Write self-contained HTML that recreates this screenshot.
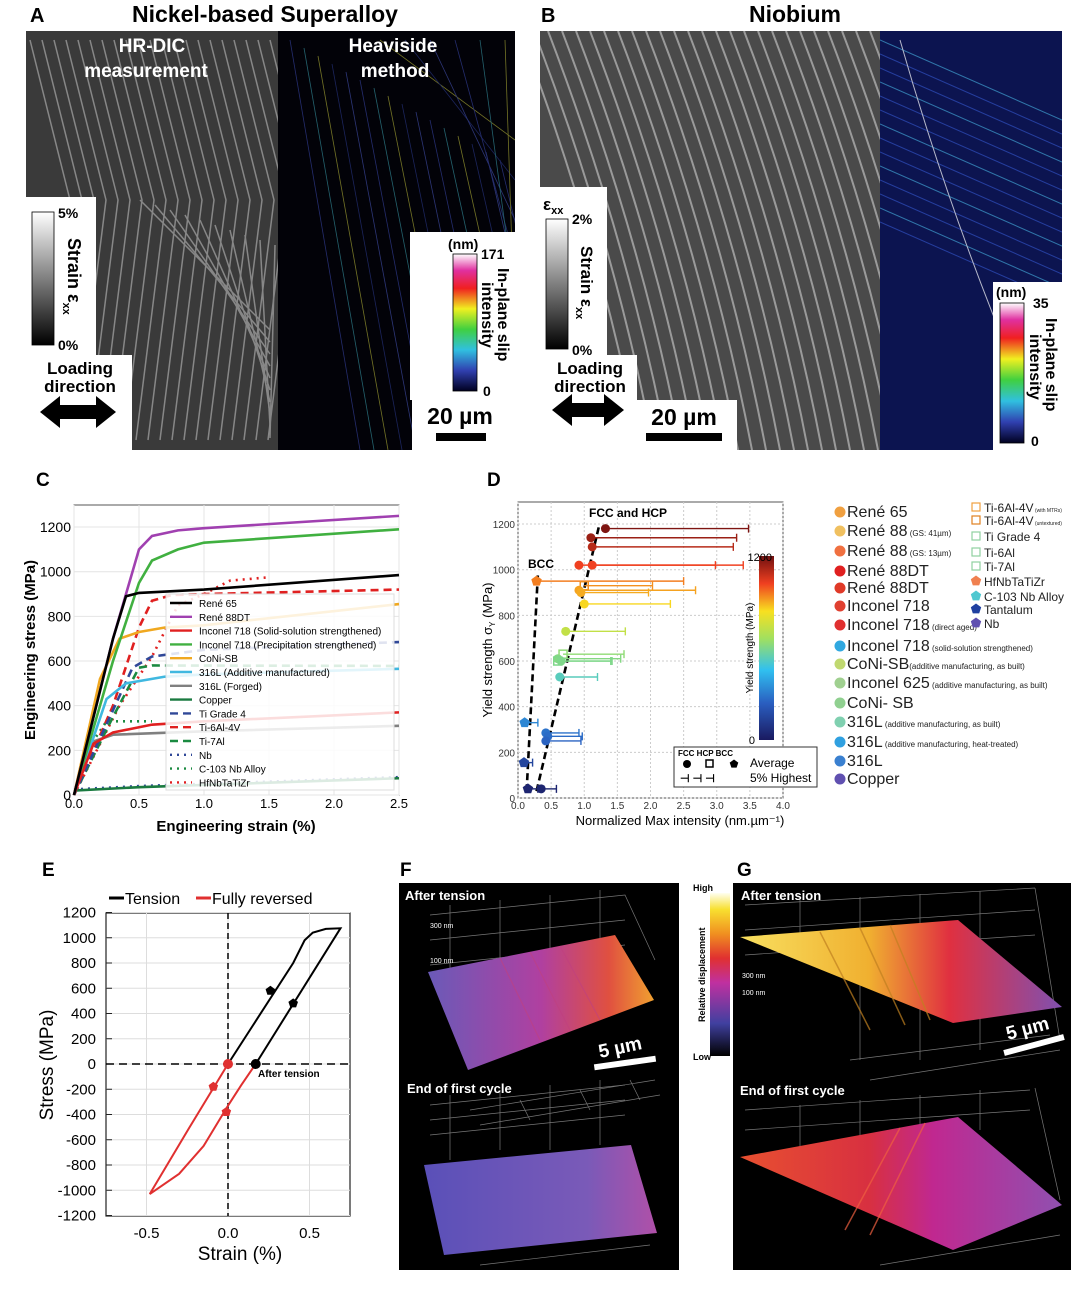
<!DOCTYPE html>
<html><head><meta charset="utf-8">
<style>
html,body{margin:0;padding:0;background:#fff;}
body{width:1080px;height:1297px;overflow:hidden;font-family:"Liberation Sans",sans-serif;}
svg text{font-family:"Liberation Sans",sans-serif;}
</style></head>
<body>
<svg id="fig" width="1080" height="1297" viewBox="0 0 1080 1297" xmlns="http://www.w3.org/2000/svg">
<defs>
<clipPath id="clipA1"><rect x="26" y="31" width="252" height="419"/></clipPath>
<clipPath id="clipA2"><rect x="278" y="31" width="237" height="419"/></clipPath>
<clipPath id="clipB1"><rect x="540" y="31" width="340" height="419"/></clipPath>
<clipPath id="clipB2"><rect x="880" y="31" width="182" height="419"/></clipPath>
<linearGradient id="gray" x1="0" y1="1" x2="0" y2="0"><stop offset="0" stop-color="#000"/><stop offset="1" stop-color="#fff"/></linearGradient>
<linearGradient id="slip" x1="0" y1="1" x2="0" y2="0"><stop offset="0" stop-color="#000020"/><stop offset="0.15" stop-color="#3040b0"/><stop offset="0.3" stop-color="#30c0e0"/><stop offset="0.45" stop-color="#40d040"/><stop offset="0.6" stop-color="#f0f020"/><stop offset="0.75" stop-color="#f02020"/><stop offset="0.88" stop-color="#e030a0"/><stop offset="1" stop-color="#fff"/></linearGradient>
<linearGradient id="jet" x1="0" y1="1" x2="0" y2="0"><stop offset="0" stop-color="#1a1a60"/><stop offset="0.2" stop-color="#2a5ec0"/><stop offset="0.38" stop-color="#30c0f0"/><stop offset="0.55" stop-color="#a0e060"/><stop offset="0.7" stop-color="#f8e020"/><stop offset="0.85" stop-color="#f04020"/><stop offset="1" stop-color="#701010"/></linearGradient>
<linearGradient id="heat" x1="0" y1="1" x2="0" y2="0"><stop offset="0" stop-color="#000"/><stop offset="0.2" stop-color="#4040a0"/><stop offset="0.45" stop-color="#c030a0"/><stop offset="0.6" stop-color="#e03030"/><stop offset="0.75" stop-color="#f09020"/><stop offset="0.9" stop-color="#f8e030"/><stop offset="1" stop-color="#fffff0"/></linearGradient>
<linearGradient id="fTop" x1="0" y1="0" x2="1" y2="0"><stop offset="0" stop-color="#6a5ab8"/><stop offset="0.5" stop-color="#b040a0"/><stop offset="0.8" stop-color="#e05040"/><stop offset="1" stop-color="#f0a030"/></linearGradient>
<linearGradient id="fBot" x1="0" y1="0" x2="1" y2="0"><stop offset="0" stop-color="#5a50b8"/><stop offset="0.7" stop-color="#7a5ab8"/><stop offset="1" stop-color="#b050a8"/></linearGradient>
<linearGradient id="gTop" x1="0" y1="0" x2="1" y2="0"><stop offset="0" stop-color="#f8e060"/><stop offset="0.4" stop-color="#f0b030"/><stop offset="0.65" stop-color="#e03040"/><stop offset="1" stop-color="#8050b0"/></linearGradient>
<linearGradient id="gBot" x1="0" y1="0" x2="1" y2="0"><stop offset="0" stop-color="#e85030"/><stop offset="0.4" stop-color="#d83040"/><stop offset="0.6" stop-color="#c02890"/><stop offset="1" stop-color="#9050b0"/></linearGradient>
</defs>

<!-- Panel A -->
<text x="30" y="22" font-size="20" font-weight="bold">A</text>
<text x="265" y="22" font-size="23" font-weight="bold" text-anchor="middle">Nickel-based Superalloy</text>
<rect x="26" y="31" width="252" height="419" fill="#3a3a3a"/>
<g id="stripesA" clip-path="url(#clipA1)" stroke="#bbb" stroke-width="1.5" opacity="0.6"></g>
<rect x="278" y="31" width="237" height="419" fill="#020208"/>
<g id="linesA" clip-path="url(#clipA2)" stroke-width="0.8" opacity="0.55"></g>
<text x="152" y="52" font-size="19" font-weight="bold" fill="#fff" text-anchor="middle">HR-DIC</text>
<text x="146" y="77" font-size="19" font-weight="bold" fill="#fff" text-anchor="middle">measurement</text>
<text x="393" y="52" font-size="19" font-weight="bold" fill="#fff" text-anchor="middle">Heaviside</text>
<text x="395" y="77" font-size="19" font-weight="bold" fill="#fff" text-anchor="middle">method</text>
<rect x="26" y="197" width="70" height="158" fill="#fff"/>
<rect x="32" y="212" width="22" height="133" fill="url(#gray)" stroke="#000" stroke-width="0.8"/>
<text x="58" y="218" font-size="14" font-weight="bold">5%</text>
<text x="58" y="350" font-size="14" font-weight="bold">0%</text>
<text transform="translate(68,238) rotate(90)" font-size="18" font-weight="bold">Strain ε<tspan font-size="11" dy="5">xx</tspan></text>
<rect x="26" y="355" width="106" height="95" fill="#fff"/>
<text x="80" y="374" font-size="17" font-weight="bold" text-anchor="middle">Loading</text>
<text x="80" y="392" font-size="17" font-weight="bold" text-anchor="middle">direction</text>
<polygon points="40,412 60,396 60,405 96,405 96,396 116,412 96,428 96,419 60,419 60,428" fill="#000"/>
<rect x="410" y="232" width="105" height="168" fill="#fff"/>
<rect x="412" y="400" width="103" height="50" fill="#fff"/>
<rect x="453" y="254" width="24" height="137" fill="url(#slip)" stroke="#000" stroke-width="0.8"/>
<text x="448" y="249" font-size="14" font-weight="bold">(nm)</text>
<text x="481" y="259" font-size="14" font-weight="bold">171</text>
<text x="483" y="396" font-size="14" font-weight="bold">0</text>
<text transform="translate(498,268) rotate(90)" font-size="16" font-weight="bold">In-plane slip</text>
<text transform="translate(482,282) rotate(90)" font-size="16" font-weight="bold">intensity</text>
<text x="460" y="424" font-size="23" font-weight="bold" text-anchor="middle">20 µm</text>
<rect x="436" y="433" width="50" height="8" fill="#000"/>

<!-- Panel B -->
<text x="541" y="22" font-size="20" font-weight="bold">B</text>
<text x="795" y="22" font-size="23" font-weight="bold" text-anchor="middle">Niobium</text>
<rect x="540" y="31" width="340" height="419" fill="#4a4a4a"/>
<g id="stripesB" clip-path="url(#clipB1)" stroke="#ddd" stroke-width="2" opacity="0.55"></g>
<rect x="880" y="31" width="182" height="419" fill="#0c1450"/>
<g id="linesB" clip-path="url(#clipB2)" stroke-width="1" opacity="0.7"></g>
<rect x="540" y="187" width="67" height="168" fill="#fff"/>
<rect x="546" y="219" width="22" height="130" fill="url(#gray)" stroke="#000" stroke-width="0.8"/>
<text x="543" y="210" font-size="17" font-weight="bold">ε<tspan font-size="11" dy="4">xx</tspan></text>
<text x="572" y="224" font-size="14" font-weight="bold">2%</text>
<text x="572" y="355" font-size="14" font-weight="bold">0%</text>
<text transform="translate(581,246) rotate(90)" font-size="17" font-weight="bold">Strain ε<tspan font-size="11" dy="5">xx</tspan></text>
<rect x="540" y="355" width="97" height="95" fill="#fff"/>
<text x="590" y="374" font-size="17" font-weight="bold" text-anchor="middle">Loading</text>
<text x="590" y="392" font-size="17" font-weight="bold" text-anchor="middle">direction</text>
<polygon points="552,410 572,394 572,403 604,403 604,394 624,410 604,426 604,417 572,417 572,426" fill="#000"/>
<rect x="637" y="400" width="100" height="50" fill="#fff"/>
<text x="684" y="425" font-size="23" font-weight="bold" text-anchor="middle">20 µm</text>
<rect x="646" y="433" width="76" height="8" fill="#000"/>
<rect x="993" y="282" width="69" height="168" fill="#fff"/>
<rect x="1000" y="303" width="24" height="140" fill="url(#slip)" stroke="#000" stroke-width="0.8"/>
<text x="996" y="297" font-size="14" font-weight="bold">(nm)</text>
<text x="1033" y="308" font-size="14" font-weight="bold">35</text>
<text x="1031" y="446" font-size="14" font-weight="bold">0</text>
<text transform="translate(1046,318) rotate(90)" font-size="16" font-weight="bold">In-plane slip</text>
<text transform="translate(1030,334) rotate(90)" font-size="16" font-weight="bold">intensity</text>

<!-- Panel C -->
<text x="36" y="486" font-size="19" font-weight="bold">C</text>
<g id="panelC"></g>

<!-- Panel D -->
<text x="487" y="486" font-size="19" font-weight="bold">D</text>
<g id="panelD"></g>

<!-- Panel E -->
<text x="42" y="876" font-size="19" font-weight="bold">E</text>
<g id="panelE"></g>

<!-- Panel F -->
<text x="400" y="876" font-size="19" font-weight="bold">F</text>
<rect x="399" y="883" width="280" height="387" fill="#000"/>
<g stroke="#777" stroke-width="0.7" fill="none">
<path d="M430,915 L625,895 L655,960 M430,940 L625,920 M430,965 L625,945 M470,1110 L655,1080 M480,1125 L660,1095 M450,905 L450,1000 M500,900 L500,995 M550,895 L550,990 M600,890 L600,980 M520,1100 L530,1120 M580,1090 L590,1110 M630,1080 L640,1100"/>
<path d="M430,1105 L625,1085 M430,1120 L625,1100 M430,1135 L625,1115 M450,1095 L450,1160 M500,1090 L500,1150 M550,1085 L550,1150 M600,1080 L600,1145 M480,1265 L650,1245"/>
</g>
<polygon points="428,972 615,935 654,1000 468,1070" fill="url(#fTop)"/>
<g stroke="#c04080" stroke-width="1.2" opacity="0.6"><line x1="500" y1="958" x2="540" y2="1040"/><line x1="530" y1="952" x2="570" y2="1030"/><line x1="560" y1="946" x2="600" y2="1020"/></g>
<polygon points="424,1165 631,1145 657,1233 444,1255" fill="url(#fBot)"/>
<text x="405" y="900" font-size="13" font-weight="bold" fill="#fff">After tension</text>
<text x="430" y="928" font-size="7" fill="#fff">300 nm</text>
<text x="430" y="963" font-size="7" fill="#fff">100 nm</text>
<text transform="translate(600,1058) rotate(-12)" font-size="19" font-weight="bold" fill="#fff">5 µm</text>
<rect x="594" y="1060" width="62" height="6" fill="#fff" transform="rotate(-8 625 1063)"/>
<text x="407" y="1093" font-size="13" font-weight="bold" fill="#fff">End of first cycle</text>

<!-- Shared colorbar -->
<rect x="710" y="893" width="20" height="163" fill="url(#heat)"/>
<text x="693" y="891" font-size="9" font-weight="bold">High</text>
<text x="693" y="1060" font-size="9" font-weight="bold">Low</text>
<text transform="translate(705,1022) rotate(-90)" font-size="9" font-weight="bold">Relative displacement</text>

<!-- Panel G -->
<text x="737" y="876" font-size="19" font-weight="bold">G</text>
<rect x="733" y="883" width="338" height="387" fill="#000"/>
<g stroke="#777" stroke-width="0.7" fill="none">
<path d="M745,905 L1035,888 M745,930 L1035,910 M745,955 L1035,935 M850,1060 L1050,1035 M870,1080 L1060,1050 M800,900 L800,960 M860,897 L860,1060 M920,894 L920,1060 M980,891 L980,1050 M1035,888 L1060,1040"/>
<path d="M745,1110 L1030,1090 M745,1130 L1030,1110 M800,1105 L800,1160 M860,1100 L860,1150 M920,1095 L920,1140 M980,1090 L980,1130 M1035,1088 L1060,1200 M880,1265 L1060,1235"/>
</g>
<polygon points="740,937 958,920 1062,1007 953,1023" fill="url(#gTop)"/>
<g stroke="#c08020" stroke-width="1.5" opacity="0.7"><line x1="820" y1="932" x2="870" y2="1030"/><line x1="860" y1="928" x2="905" y2="1025"/><line x1="890" y1="925" x2="930" y2="1020"/></g>
<polygon points="740,1157 958,1117 1062,1205 953,1250" fill="url(#gBot)"/>
<g stroke="#f06040" stroke-width="1.5" opacity="0.7"><line x1="900" y1="1128" x2="845" y2="1230"/><line x1="925" y1="1123" x2="870" y2="1235"/></g>
<text x="741" y="900" font-size="13" font-weight="bold" fill="#fff">After tension</text>
<text x="742" y="978" font-size="7" fill="#fff">300 nm</text>
<text x="742" y="995" font-size="7" fill="#fff">100 nm</text>
<text transform="translate(1008,1040) rotate(-15)" font-size="19" font-weight="bold" fill="#fff">5 µm</text>
<rect x="1003" y="1042" width="62" height="6" fill="#fff" transform="rotate(-15 1034 1045)"/>
<text x="740" y="1095" font-size="13" font-weight="bold" fill="#fff">End of first cycle</text>
</svg>

<script>
var NS='http://www.w3.org/2000/svg';
function mk(tag,attrs,parent){var e=document.createElementNS(NS,tag);for(var k in attrs)e.setAttribute(k,attrs[k]);parent.appendChild(e);return e;}
function txt(s,attrs,parent){var e=mk('text',attrs,parent);e.textContent=s;return e;}

// decorative image stripes
(function(){
 var g=document.getElementById('stripesA');
 var i,l;
 for(i=0;i<22;i++){l=mk('path',{d:'M'+(30+i*12)+',40 L'+(30+i*12+40)+',200 L'+(30+i*12+10)+',440',fill:'none'},g);}
 for(i=0;i<10;i++){l=mk('line',{x1:140+i*15,y1:200+i*5,x2:270,y2:330+i*12},g);}
 var h=document.getElementById('linesA');var cols=['#4050c0','#40b0c0','#d0d040','#3040a0','#5060d0'];
 for(i=0;i<16;i++){l=mk('line',{x1:290+i*14,y1:40+i*8,x2:360+i*14,y2:450,stroke:cols[i%5]},h);}
 for(i=0;i<6;i++){l=mk('line',{x1:380+i*25,y1:40,x2:515,y2:140+i*40,stroke:cols[(i+2)%5]},h);}
 var b=document.getElementById('stripesB');
 for(i=0;i<28;i++){l=mk('path',{d:'M'+(520+i*14)+',31 Q'+(600+i*14)+',240 '+(640+i*14)+',450',fill:'none'},b);}
 var hb=document.getElementById('linesB');
 for(i=0;i<14;i++){l=mk('line',{x1:880,y1:40+i*14,x2:1062,y2:120+i*14,stroke:i%3?'#3050c0':'#40a0d0'},hb);}
 l=mk('path',{d:'M900,40 Q960,250 1050,450',stroke:'#fff',fill:'none'},hb);
})();

// ===== Panel C data =====
var cNames=['René 65','René 88DT','Inconel 718 (Solid-solution strengthened)','Inconel 718 (Precipitation strengthened)','CoNi-SB','316L (Additive manufactured)','316L (Forged)','Copper','Ti Grade 4','Ti-6Al-4V','Ti-7Al','Nb','C-103 Nb Alloy','HfNbTaTiZr'];
var cColors=['#000','#a040b0','#e02020','#40b040','#f0a820','#40b8e0','#808080','#1a7a40','#304898','#e02020','#1a8a40','#304898','#1a8a40','#e02020'];
var cDash=['','','','','','','','','8,5','8,5','8,5','2,5','2,5','2,5'];
var cStrain=[[0,0.3,0.4,0.5,1.0,2.5],[0,0.3,0.5,0.6,0.8,1.0,2.5],[0,0.15,0.3,0.6,1.0,2.5],[0,0.3,0.5,0.6,0.8,1.0,2.5],[0,0.2,0.35,0.5,0.7,1.0,2.5],[0,0.25,0.4,0.7,1.0,2.5],[0,0.15,0.3,1.0,2.5],[0,0.5,2.5],[0,0.45,0.6,1.0,2.5],[0,0.3,0.5,0.6,0.75,1.0,2.5],[0,0.3,0.5,0.6,2.5],[0,0.5,2.5],[0,0.1,0.25,0.6],[0,0.35,0.6,0.8,1.0,1.2,1.5]];
var cStress=[[0,700,890,905,920,985],[0,700,1100,1160,1185,1195,1250],[0,230,280,315,330,370],[0,600,950,1050,1100,1130,1190],[0,520,700,730,750,760,855],[0,430,500,530,540,565],[0,240,270,285,310],[20,35,75],[0,570,620,650,685],[0,400,750,870,895,900,920],[0,350,570,580,578],[25,40,80],[0,200,330,330],[0,400,620,850,900,960,975]];
var cXTicks=[0,0.5,1.0,1.5,2.0,2.5];
var cYTicks=[0,200,400,600,800,1000,1200];
(function(){
 var g=document.getElementById('panelC');
 function X(v){return 74+v*130;} function Y(v){return 795-v*0.2233;}
 var e=mk('rect',{x:74,y:505,width:325,height:290,fill:'#fff',stroke:'#555','stroke-width':1},g);
 
 cXTicks.forEach(function(t){
  e=mk('line',{x1:X(t),x2:X(t),y1:505,y2:795,stroke:'#e4e4e4'},g);
  e=txt(t.toFixed(1),{x:X(t),y:808,'font-size':13,'text-anchor':'middle'},g);
 });
 cYTicks.forEach(function(t){
  e=mk('line',{x1:74,x2:399,y1:Y(t),y2:Y(t),stroke:'#e4e4e4'},g);
  e=txt(String(t),{x:71,y:Y(t)+5,'font-size':14,'text-anchor':'end'},g);
 });
 for(var i=cNames.length-1;i>=0;i--){
  var pts=cStrain[i].map(function(s,j){return X(s)+','+Y(cStress[i][j]);}).join(' ');
  e=mk('polyline',{points:pts,fill:'none',stroke:cColors[i],'stroke-width':2.6,'stroke-dasharray':cDash[i]},g);
  
 }
 e=mk('rect',{x:166,y:594,width:228,height:196,fill:'#fff','fill-opacity':0.85,stroke:'#ddd'},g);
 cNames.forEach(function(n,i){
  var y=603+i*13.8;
  e=mk('line',{x1:170,x2:192,y1:y,y2:y,stroke:cColors[i],'stroke-width':2.4,'stroke-dasharray':cDash[i]},g);
  e=txt(n,{x:199,y:y+4,'font-size':10},g);
 });
 e=txt('Engineering strain (%)',{x:236,y:831,'font-size':15,'font-weight':'bold','text-anchor':'middle'},g);
 e=txt('Engineering stress (MPa)',{transform:'translate(35,650) rotate(-90)','font-size':15,'font-weight':'bold','text-anchor':'middle'},g);
})();

// ===== Panel D data =====
var dAvg=[1.32,1.1,1.12,0.92,1.12,0.28,1.0,0.92,0.95,1.0,0.72,0.68,0.6,0.6,0.65,0.63,0.1,0.42,0.45,0.42,0.09,0.15,0.35];
var dYield=[1180,1140,1100,1020,1020,950,930,910,900,850,730,630,610,600,600,530,330,285,270,250,155,40,40];
var dHigh=[3.48,3.3,3.25,2.98,3.4,2.5,2.03,2.68,1.97,2.3,1.62,1.6,1.55,1.42,1.4,1.2,0.3,0.92,0.97,0.95,0.22,0.3,0.58];
var dShape=['c','c','c','c','c','p','s','c','c','c','c','s','c','s','c','c','p','c','c','c','p','p','c'];
var dXTicks=[0,0.5,1.0,1.5,2.0,2.5,3.0,3.5,4.0];
var dYTicks=[0,200,400,600,800,1000,1200];
var dLegL=[['René 65','#f0a040',''],['René 88','#f0c060',' (GS: 41µm)'],['René 88','#f07040',' (GS: 13µm)'],['René 88DT','#e02020',''],['René 88DT','#e03a28',''],['Inconel 718','#e04030',''],['Inconel 718','#e03030',' (direct aged)'],['Inconel 718','#30a8e0',' (solid-solution strengthened)'],['CoNi-SB','#c0d870','(additive manufacturing, as built)'],['Inconel 625','#a0d090',' (additive manufacturing, as built)'],['CoNi- SB','#90d090',''],['316L','#80d0b0','  (additive manufacturing, as built)'],['316L','#30a0e0','  (additive manufacturing, heat-treated)'],['316L','#3a80d0',''],['Copper','#6050b0','']];
var dLegR=[['Ti-6Al-4V','#f0a040','s',' (with MTRs)'],['Ti-6Al-4V','#e08020','s',' (untextured)'],['Ti Grade 4','#90d0a0','s',''],['Ti-6Al','#90d0a0','s',''],['Ti-7Al','#90d0a0','s',''],['HfNbTaTiZr','#f08050','p',''],['C-103 Nb Alloy','#50c8d0','p',''],['Tantalum','#2040a0','p',''],['Nb','#6050b0','p','']];
function jet(v){var st=[[0,[26,26,96]],[240,[42,94,192]],[456,[48,192,240]],[660,[160,224,96]],[840,[248,224,32]],[1020,[240,64,32]],[1200,[112,16,16]]];
 for(var i=1;i<st.length;i++){if(v<=st[i][0]){var a=st[i-1],b=st[i],t=(v-a[0])/(b[0]-a[0]);return 'rgb('+[0,1,2].map(function(k){return Math.round(a[1][k]+t*(b[1][k]-a[1][k]));}).join(',')+')';}}return 'rgb(112,16,16)';}
function pent(cx,cy,r){var p=[];for(var k=0;k<5;k++){var a=-Math.PI/2+k*2*Math.PI/5;p.push((cx+r*Math.cos(a)).toFixed(1)+','+(cy+r*Math.sin(a)).toFixed(1));}return p.join(' ');}
(function(){
 var g=document.getElementById('panelD');
 function X(v){return 518+v*66.25;} function Y(v){return 798-v*0.2283;}
 var e=mk('rect',{x:518,y:502,width:265,height:296,fill:'#fff',stroke:'#555'},g);
 dXTicks.forEach(function(t){
  e=mk('line',{x1:X(t),x2:X(t),y1:502,y2:798,stroke:'#ccc','stroke-dasharray':'2,2'},g);
  e=txt(t.toFixed(1),{x:X(t),y:809,'font-size':10,fill:'#333','text-anchor':'middle'},g);
 });
 dYTicks.forEach(function(t){
  e=mk('line',{x1:518,x2:783,y1:Y(t),y2:Y(t),stroke:'#ccc','stroke-dasharray':'2,2'},g);
  e=txt(String(t),{x:515,y:Y(t)+4,'font-size':10,fill:'#333','text-anchor':'end'},g);
 });
 e=mk('line',{x1:X(0.13),y1:Y(30),x2:X(0.3),y2:Y(980),stroke:'#000','stroke-width':2.6,'stroke-dasharray':'7,4'},g);
 e=mk('line',{x1:X(0.28),y1:Y(30),x2:X(1.23),y2:Y(1200),stroke:'#000','stroke-width':2.6,'stroke-dasharray':'7,4'},g);
 e=txt('BCC',{x:528,y:568,'font-size':12,'font-weight':'bold'},g);
 e=txt('FCC and HCP',{x:589,y:517,'font-size':12,'font-weight':'bold'},g);
 dAvg.forEach(function(a,i){
  var c=jet(dYield[i]),y=Y(dYield[i]);
  e=mk('line',{x1:X(a),x2:X(dHigh[i]),y1:y,y2:y,stroke:c,'stroke-width':1.4},g);
  e=mk('line',{x1:X(dHigh[i]),x2:X(dHigh[i]),y1:y-4,y2:y+4,stroke:c,'stroke-width':1.4},g);
  if(dShape[i]==='c'){e=mk('circle',{cx:X(a),cy:y,r:4.5,fill:c},g);}
  else if(dShape[i]==='s'){e=mk('rect',{x:X(a)-4,y:y-4,width:8,height:8,fill:'none',stroke:c,'stroke-width':1.5},g);}
  else {e=mk('polygon',{points:pent(X(a),y,5.5),fill:c},g);}
  
 });
 e=mk('rect',{x:759,y:556,width:15,height:184,fill:'url(#jet)'},g);
 e=txt('1200',{x:772,y:561,'font-size':11,'text-anchor':'end'},g);
 e=txt('0',{x:755,y:744,'font-size':11,'text-anchor':'end'},g);
 e=txt('Yield strength (MPa)',{transform:'translate(753,648) rotate(-90)','font-size':10,'text-anchor':'middle'},g);
 e=mk('rect',{x:674,y:747,width:143,height:40,fill:'#fff',stroke:'#333'},g);
 e=txt('FCC HCP BCC',{x:678,y:756,'font-size':8,'font-weight':'bold'},g);
 e=mk('circle',{cx:687,cy:764,r:4,fill:'#000'},g);
 e=mk('rect',{x:706,y:760,width:7,height:7,fill:'none',stroke:'#000','stroke-width':1.5},g);
 e=mk('polygon',{points:pent(734,764,4.5),fill:'#000'},g);
 e=txt('Average',{x:750,y:767,'font-size':12},g);
 e=txt('⊣   ⊣   ⊣',{x:680,y:782,'font-size':11,'font-weight':'bold'},g);
 e=txt('5% Highest',{x:750,y:782,'font-size':12},g);
 e=txt('Normalized Max intensity (nm.µm⁻¹)',{x:680,y:825,'font-size':13,'text-anchor':'middle'},g);
 var yt=txt('Yield strength σ',{transform:'translate(492,650) rotate(-90)','font-size':13,'text-anchor':'middle'},g);
 var s1=document.createElementNS(NS,'tspan');s1.setAttribute('font-size','8');s1.setAttribute('dy','3');s1.textContent='Y';yt.appendChild(s1);
 var s2=document.createElementNS(NS,'tspan');s2.setAttribute('dy','-3');s2.textContent=' (MPa)';yt.appendChild(s2);
 var ly=[517,536,556,576,593,611,630,651,669,688,708,727,747,766,784];
 dLegL.forEach(function(it,i){
  e=mk('circle',{cx:840,cy:ly[i]-5,r:5.5,fill:it[1]},g);
  var t=txt(it[0],{x:847,y:ly[i],'font-size':16,fill:'#222'},g);
  if(it[2]){var s=document.createElementNS(NS,'tspan');s.setAttribute('font-size','8');s.textContent=it[2];t.appendChild(s);}
 });
 var ry=[512,525,541,557,571,586,601,614,628];
 dLegR.forEach(function(it,i){
  if(it[2]==='s'){e=mk('rect',{x:972,y:ry[i]-9,width:8,height:8,fill:'none',stroke:it[1],'stroke-width':1.2},g);}
  else{e=mk('polygon',{points:pent(976,ry[i]-5,5.5),fill:it[1]},g);}
  
  var t=txt(it[0],{x:984,y:ry[i],'font-size':12,fill:'#222'},g);
  if(it[3]){var s=document.createElementNS(NS,'tspan');s.setAttribute('font-size','5');s.textContent=it[3];t.appendChild(s);}
 });
})();

// ===== Panel E data =====
var eTensionStrain=[0,0.4,0.47,0.52,0.6,0.69,0.17];
var eTensionStress=[0,800,980,1040,1070,1075,0];
var eRevStrain=[0.17,0.08,0,-0.15,-0.3,-0.48,-0.24,0];
var eRevStress=[0,-170,-330,-650,-870,-1030,-510,0];
var eXTicks=[-0.5,0.0,0.5];
var eXTickLabels=['-0.5','0.0','0.5'];
var eYTicks=[-1200,-1000,-800,-600,-400,-200,0,200,400,600,800,1000,1200];
(function(){
 var g=document.getElementById('panelE');
 function X(v){return 228+v*163;} function Y(v){return 1064-v*0.12625;}
 var e=mk('rect',{x:106,y:913,width:244,height:303,fill:'#fff',stroke:'#222','stroke-width':1.2},g);
 eXTicks.forEach(function(t,i){
  e=mk('line',{x1:X(t),x2:X(t),y1:913,y2:1216,stroke:'#ddd'},g);
  e=txt(eXTickLabels[i],{x:X(t),y:1238,'font-size':15,'text-anchor':'middle'},g);
 });
 eYTicks.forEach(function(t){
  e=mk('line',{x1:106,x2:350,y1:Y(t),y2:Y(t),stroke:'#ddd'},g);
  e=mk('line',{x1:106,x2:112,y1:Y(t),y2:Y(t),stroke:'#222'},g);
  e=txt(String(t),{x:96,y:Y(t)+5,'font-size':15,'text-anchor':'end'},g);
 });
 e=mk('line',{x1:106,x2:350,y1:Y(0),y2:Y(0),stroke:'#000','stroke-width':1.5,'stroke-dasharray':'8,5'},g);
 e=mk('line',{x1:X(0),x2:X(0),y1:913,y2:1216,stroke:'#000','stroke-width':1.5,'stroke-dasharray':'6,4'},g);
 e=mk('polyline',{points:eTensionStrain.map(function(s,j){return X(s)+','+Y(eTensionStress[j]);}).join(' '),fill:'none',stroke:'#000','stroke-width':2},g);
 e=mk('polyline',{points:eRevStrain.map(function(s,j){return X(s)+','+Y(eRevStress[j]);}).join(' '),fill:'none',stroke:'#e03030','stroke-width':2},g);
 e=mk('circle',{cx:X(eTensionStrain[6]),cy:Y(0),r:5,fill:'#000'},g);
 e=mk('circle',{cx:X(0),cy:Y(0),r:5,fill:'#e03030'},g);
 e=mk('polygon',{points:pent(X(0.26),Y(580),5),fill:'#000'},g);
 e=mk('polygon',{points:pent(X(0.4),Y(480),5),fill:'#000'},g);
 e=mk('polygon',{points:pent(X(-0.09),Y(-180),5),fill:'#e03030'},g);
 e=mk('polygon',{points:pent(X(-0.01),Y(-380),5),fill:'#e03030'},g);
 e=txt('After tension',{x:258,y:1077,'font-size':10,'font-weight':'bold'},g);
 e=mk('line',{x1:109,x2:124,y1:898,y2:898,stroke:'#000','stroke-width':3},g);
 e=txt('Tension',{x:125,y:904,'font-size':16},g);
 e=mk('line',{x1:196,x2:211,y1:898,y2:898,stroke:'#e03030','stroke-width':3},g);
 e=txt('Fully reversed',{x:212,y:904,'font-size':16},g);
 e=txt('Strain (%)',{x:240,y:1260,'font-size':19,'text-anchor':'middle'},g);
 e=txt('Stress (MPa)',{transform:'translate(53,1065) rotate(-90)','font-size':19,'text-anchor':'middle'},g);
})();
</script>
</body></html>
